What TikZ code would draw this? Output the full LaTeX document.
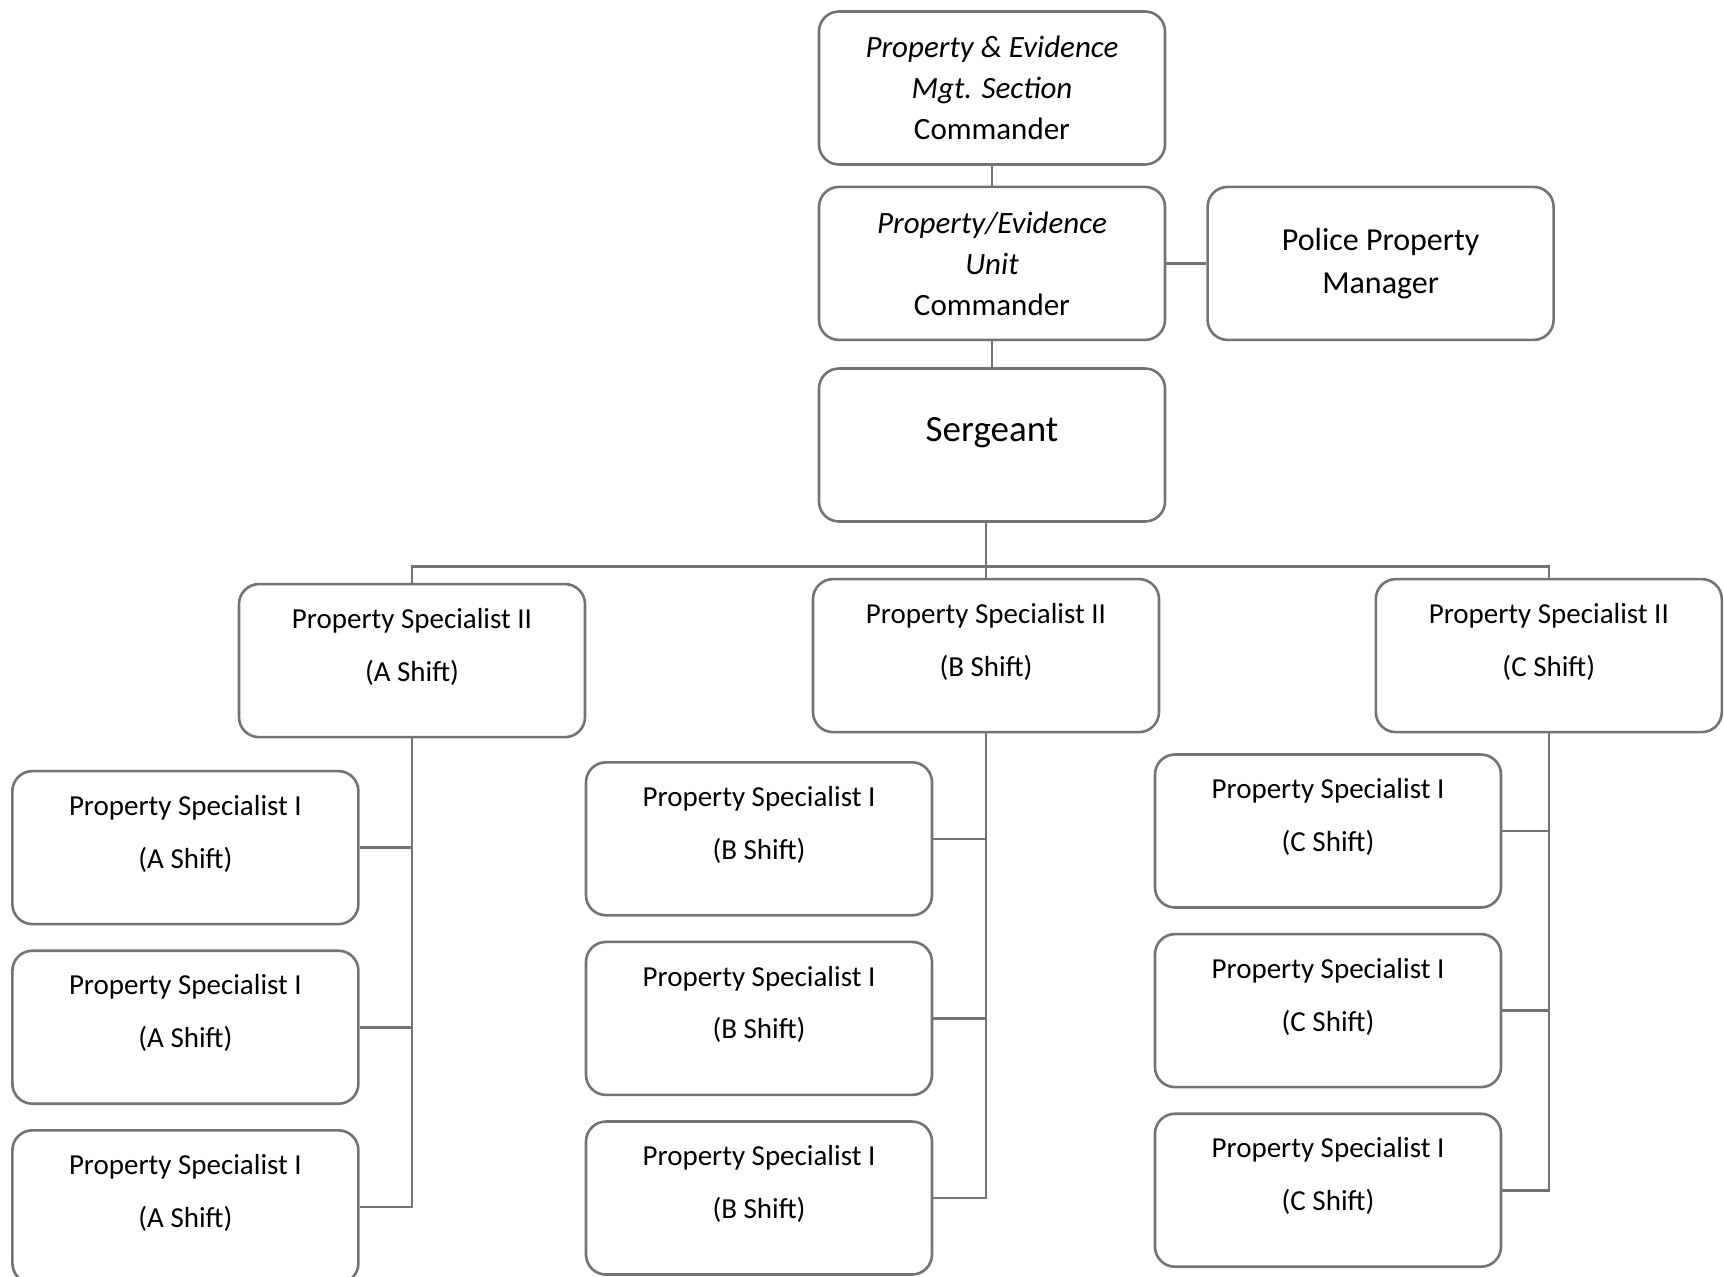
\documentclass[tikz,border=0pt]{standalone}
\usepackage{fontspec}
\setmainfont{Carlito}
\usetikzlibrary{calc,positioning}
\tikzset{
  unitnode/.style={
    rectangle,
    rounded corners=10pt,
    draw=black!55, line width=1.3pt,
    minimum width=173pt,
    minimum height=76.5pt,
    inner sep=0pt,
    align=center,
    font=\fontsize{15.5}{20.5}\selectfont},
  staffnode/.style={
    unitnode,
    font=\fontsize{14.5}{26.4}\selectfont,
    text height=37.4pt, text depth=17pt},
  line/.style={draw=black!55, line width=1.3pt}
}
\begin{document}
\begin{tikzpicture}
  \useasboundingbox (0,0) rectangle (862pt,-638pt);
  % command chain
  \node[unitnode] (pems) at (496pt,-44pt)
    {\textit{Property \& Evidence}\\\textit{Mgt. Section}\\Commander};
  \node[unitnode, below=9.9pt of pems] (peu)
    {\textit{Property/Evidence}\\\textit{Unit}\\Commander};
  \node[unitnode, right=20pt of peu, font=\fontsize{16}{21.5}\selectfont] (ppm)
    {Police Property\\Manager};
  \node[unitnode, below=13pt of peu, font=\fontsize{18.5}{22}\selectfont,
    text height=11pt, text depth=14.5pt] (serg) {Sergeant};

  % shift leads
  \node[staffnode] (psiiA) at (206pt,-330.3pt) {Property Specialist II\\(A Shift)};
  \node[staffnode] (psiiB) at (493pt,-327.8pt) {Property Specialist II\\(B Shift)};
  \node[staffnode] (psiiC) at (774.4pt,-327.8pt) {Property Specialist II\\(C Shift)};

  % A shift
  \node[staffnode] (psiA1) at (92.7pt,-423.8pt) {Property Specialist I\\(A Shift)};
  \node[staffnode, below=12pt of psiA1] (psiA2) {Property Specialist I\\(A Shift)};
  \node[staffnode, below=12pt of psiA2] (psiA3) {Property Specialist I\\(A Shift)};
  % B shift
  \node[staffnode] (psiB1) at (379.5pt,-419.4pt) {Property Specialist I\\(B Shift)};
  \node[staffnode, below=12pt of psiB1] (psiB2) {Property Specialist I\\(B Shift)};
  \node[staffnode, below=12pt of psiB2] (psiB3) {Property Specialist I\\(B Shift)};
  % C shift
  \node[staffnode] (psiC1) at (664pt,-415.5pt) {Property Specialist I\\(C Shift)};
  \node[staffnode, below=12pt of psiC1] (psiC2) {Property Specialist I\\(C Shift)};
  \node[staffnode, below=12pt of psiC2] (psiC3) {Property Specialist I\\(C Shift)};

  \draw[line] (pems.south) -- (peu.north);
  \draw[line] (peu.south) -- (serg.north);
  \draw[line] (peu.east) -- (ppm.west);
  \coordinate (bus) at ($(serg.south)+(0,-21.75pt)$);
  \draw[line] (psiiB.north) -- (psiiB.north |- serg.south);
  \draw[line] (psiiA.north) |- (bus) -| (psiiC.north);

  \draw[line] (psiiA.south) |- (psiA3.east);
  \draw[line] (psiA1.east) -- (psiA1.east -| psiiA.south);
  \draw[line] (psiA2.east) -- (psiA2.east -| psiiA.south);
  \draw[line] (psiiB.south) |- (psiB3.east);
  \draw[line] (psiB1.east) -- (psiB1.east -| psiiB.south);
  \draw[line] (psiB2.east) -- (psiB2.east -| psiiB.south);
  \draw[line] (psiiC.south) |- (psiC3.east);
  \draw[line] (psiC1.east) -- (psiC1.east -| psiiC.south);
  \draw[line] (psiC2.east) -- (psiC2.east -| psiiC.south);
\end{tikzpicture}
\end{document}
